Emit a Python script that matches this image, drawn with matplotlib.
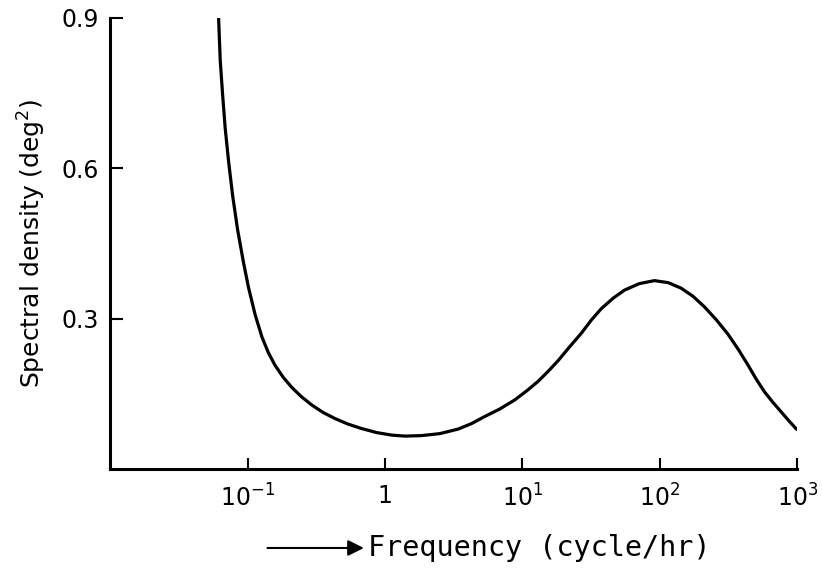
import numpy as np
import matplotlib.pyplot as plt

# curve: log10(frequency) and spectral density
log_freq = [-1.211, -1.199, -1.182, -1.163, -1.138, -1.109, -1.073, -1.029,
            -0.993, -0.945, -0.896, -0.850, -0.800, -0.740, -0.678, -0.610,
            -0.533, -0.450, -0.364, -0.270, -0.170, -0.060, 0.048, 0.145,
            0.266, 0.400, 0.532, 0.630, 0.725, 0.835, 0.943, 1.030, 1.113,
            1.190, 1.258, 1.340, 1.428, 1.500, 1.573, 1.660, 1.742, 1.850,
            1.960, 2.060, 2.154, 2.240, 2.323, 2.410, 2.493, 2.570, 2.638,
            2.700, 2.759, 2.820, 2.880, 2.940, 3.0]
density = [0.9, 0.815, 0.748, 0.680, 0.613, 0.546, 0.478, 0.411,
           0.362, 0.308, 0.264, 0.233, 0.207, 0.183, 0.163, 0.145,
           0.128, 0.113, 0.101, 0.090, 0.081, 0.073, 0.068, 0.066,
           0.067, 0.071, 0.080, 0.091, 0.105, 0.120, 0.138, 0.156, 0.175,
           0.196, 0.216, 0.243, 0.271, 0.297, 0.320, 0.341, 0.357, 0.370,
           0.376, 0.372, 0.361, 0.345, 0.324, 0.298, 0.270, 0.239, 0.209,
           0.180, 0.155, 0.134, 0.115, 0.096, 0.078]

xticks = [0.1, 1, 10, 100, 1000]
xticklabels = ['10$^{-1}$', '1', '10$^1$', '10$^2$', '10$^3$']
yticks = [0.3, 0.6, 0.9]
yticklabels = ['0.3', '0.6', '0.9']

freq = 10 ** np.array(log_freq)

fig = plt.figure(figsize=(8.22, 5.75), dpi=100)
ax = fig.add_axes([0.134, 0.184, 0.836, 0.785])

ax.plot(freq, density, color='black', lw=2.3, solid_capstyle='butt',
        solid_joinstyle='round')

ax.set_xscale('log')
ax.set_xlim(0.01, 1000)
ax.set_ylim(0, 0.9)

ax.set_xticks(xticks)
ax.set_xticklabels(xticklabels, fontsize=17)
ax.minorticks_off()
ax.set_yticks(yticks)
ax.set_yticklabels(yticklabels, fontsize=17)
ax.tick_params(axis='x', direction='in', length=8, width=1.5, pad=11)
ax.tick_params(axis='y', direction='in', length=9, width=1.5, pad=8)

for s in ['top', 'right']:
    ax.spines[s].set_visible(False)
for s in ['left', 'bottom']:
    ax.spines[s].set_linewidth(2.2)

ax.set_ylabel('Spectral density (deg$^2$)', fontsize=18, labelpad=10)

# arrow + x label
fig.text(0.448, 0.047, 'Frequency (cycle/hr)', fontsize=20.5, family='DejaVu Sans Mono',
         va='center', ha='left')
ax.annotate('', xy=(0.446, 0.047), xytext=(0.322, 0.047), xycoords='figure fraction',
            arrowprops=dict(arrowstyle='-|>', color='black', lw=1.5, mutation_scale=24))

plt.savefig('out.png', dpi=100)
